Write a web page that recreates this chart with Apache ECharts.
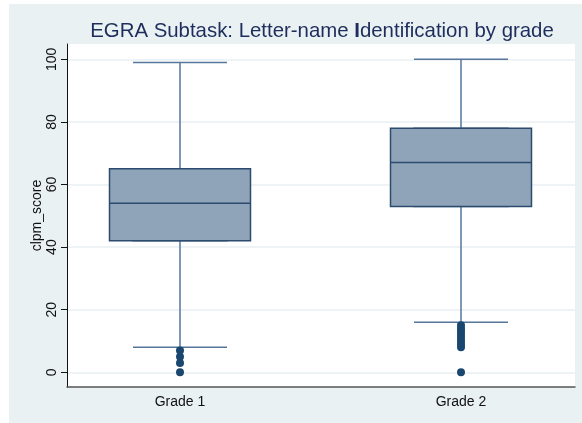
<!DOCTYPE html>
<html lang="en">
<head>
<meta charset="UTF-8">
<title>EGRA boxplot</title>
<script src="https://cdn.jsdelivr.net/npm/echarts@6/dist/echarts.min.js"></script>
<style>
  html, body { margin: 0; padding: 0; background: #fff; }
  #container { width: 582px; height: 423px; }
</style>
</head>
<body>
<div id="container"></div>
<script type="text/javascript">
    // data
    var grades = ['Grade 1', 'Grade 2'];
    // [lower whisker, Q1, median, Q3, upper whisker]
    var boxStats = [
        [8, 42, 54, 65, 99],
        [16, 53, 67, 78, 100]
    ];
    var outliers1 = [0, 3, 5, 7];
    var outliers2 = [0, 8, 9, 10, 11, 12, 13, 14, 15];
    var yTicks = [0, 20, 40, 60, 80, 100];

    var dom = document.getElementById('container');
    var myChart = echarts.init(dom);

    // whiskers only (narrow caps) and boxes only (wide, whiskers collapsed)
    var whiskerData = boxStats.map(function (s) { return s.slice(); });
    var boxData = boxStats.map(function (s) { return [s[1], s[1], s[2], s[3], s[3]]; });

    var outlierData = [];
    outliers1.forEach(function (v) { outlierData.push([grades[0], v]); });
    outliers2.forEach(function (v) { outlierData.push([grades[1], v]); });

    var yMin = -4.7, yMax = 104.9;
    var font = 'Liberation Sans, Arial, Helvetica, sans-serif';

    var option = {
        backgroundColor: '#e9f1f3',
        animation: false,
        textStyle: { fontFamily: font },
        graphic: [
            { type: 'rect', left: 0, top: 0, shape: { width: 582, height: 4 }, style: { fill: '#ffffff' } },
            { type: 'rect', left: 0, top: 0, shape: { width: 9, height: 423 }, style: { fill: '#ffffff' } }
        ],
        title: {
            left: 317,
            textAlign: 'center',
            top: 16,
            text: '{a|EGRA Subtask: Letter-name }{b|I}{a|dentification by grade}',
            textStyle: {
                fontWeight: 'normal',
                rich: {
                    a: { fontSize: 20.4, color: '#1e2d5c', fontWeight: 'normal', fontFamily: font },
                    b: { fontSize: 20.4, color: '#1e2d5c', fontWeight: 'bold', fontFamily: font }
                }
            }
        },
        grid: [
            { left: 67, right: 7, top: 44, bottom: 36, show: true, backgroundColor: '#ffffff', borderWidth: 0 },
            { left: 180, right: 121, top: 44, bottom: 36 }
        ],
        xAxis: [
            {
                gridIndex: 0, type: 'category', data: [''],
                axisLine: { onZero: false, lineStyle: { color: '#555', width: 1.5 } },
                axisTick: { show: false }, axisLabel: { show: false }, splitLine: { show: false }
            },
            {
                gridIndex: 1, type: 'category', data: grades, boundaryGap: false,
                axisLine: { show: false, onZero: false }, axisTick: { show: false }, splitLine: { show: false },
                axisLabel: { color: '#111', fontSize: 14, margin: 8 }
            },
            {
                gridIndex: 1, type: 'category', data: grades, boundaryGap: false, show: false
            }
        ],
        yAxis: [
            {
                gridIndex: 0, type: 'value', min: yMin, max: yMax,
                name: 'clpm_score', nameLocation: 'middle', nameGap: 23, nameMoveOverlap: false,
                nameTextStyle: { color: '#111', fontSize: 14 },
                axisLine: { show: true, lineStyle: { color: '#111', width: 1 } },
                axisTick: { show: true, length: 6, customValues: yTicks, lineStyle: { color: '#111' } },
                axisLabel: { rotate: 90, fontSize: 14, color: '#111', margin: 8, customValues: yTicks },
                splitLine: { show: true, customValues: yTicks, lineStyle: { color: '#e9f1f3', width: 1.5 } }
            },
            { gridIndex: 1, type: 'value', min: yMin, max: yMax, show: false, splitLine: { show: false } }
        ],
        series: [
            {
                name: 'whiskers', type: 'boxplot', xAxisIndex: 1, yAxisIndex: 1,
                boxWidth: [94, 94],
                itemStyle: { color: '#8fa4b9', borderColor: '#56779a', borderWidth: 1.5 },
                data: whiskerData
            },
            {
                name: 'boxes', type: 'boxplot', xAxisIndex: 2, yAxisIndex: 1,
                boxWidth: [141, 141],
                itemStyle: { color: '#8fa4b9', borderColor: '#2c4b6e', borderWidth: 1.5 },
                data: boxData
            },
            {
                name: 'outliers', type: 'scatter', xAxisIndex: 1, yAxisIndex: 1,
                symbolSize: 8,
                itemStyle: { color: '#1a476f', opacity: 1 },
                data: outlierData
            }
        ]
    };

    myChart.setOption(option);
</script>
</body>
</html>
